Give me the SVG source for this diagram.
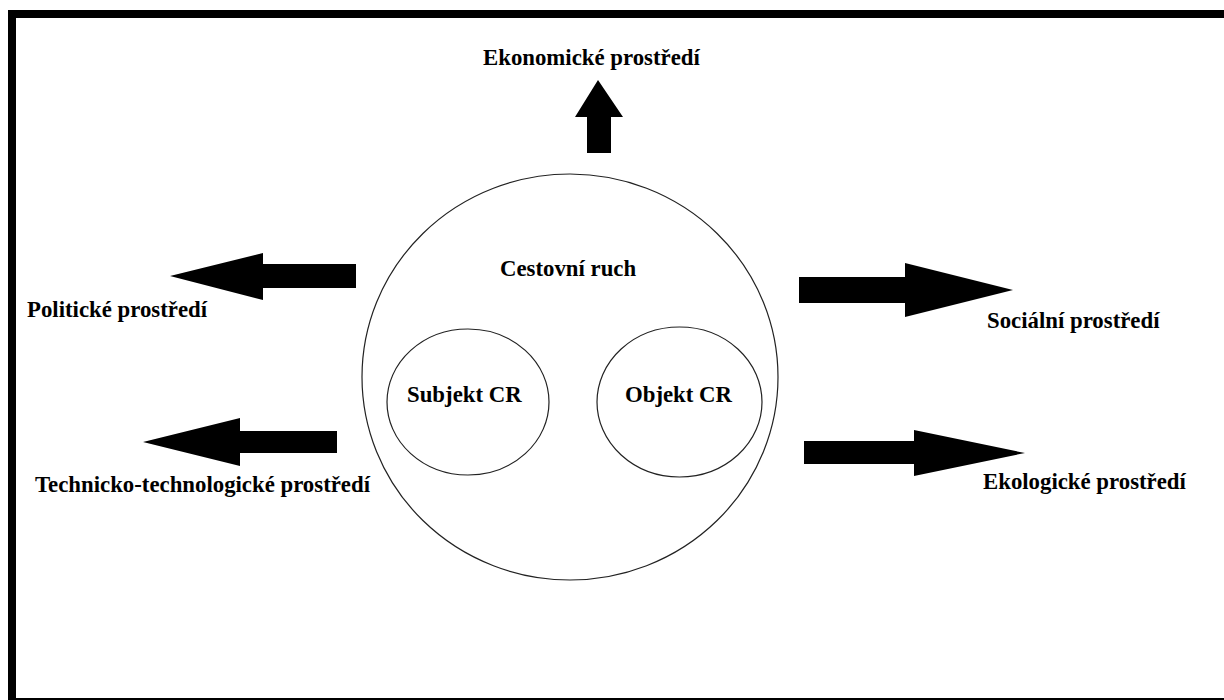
<svg xmlns="http://www.w3.org/2000/svg" width="1224" height="700" viewBox="0 0 1224 700">
<style>
.t{font-family:"Liberation Serif","Times New Roman",serif;font-weight:bold;font-size:22.8px;fill:#000}
.e{fill:none;stroke:#222;stroke-width:1.2}
.a{fill:#000}
</style>
<rect x="0" y="0" width="1224" height="700" fill="#fff"/>
<rect x="12" y="14" width="1220" height="688" fill="none" stroke="#000" stroke-width="8"/>
<g id="cestovni-ruch">
<ellipse class="e" cx="570" cy="377" rx="208" ry="203"/>
<text class="t" x="500" y="276">Cestovní ruch</text>
</g>
<g id="subjekt">
<ellipse class="e" cx="468" cy="402" rx="81" ry="73"/>
<text class="t" x="407" y="402">Subjekt CR</text>
</g>
<g id="objekt">
<ellipse class="e" cx="679.5" cy="402" rx="82.5" ry="75"/>
<text class="t" x="625" y="402">Objekt CR</text>
</g>
<g id="connectors">
<polygon class="a" points="598,80 623,117 611,117 611,153 587,153 587,117 575,117"/>
<polygon class="a" points="170,276 263,253 263,264 356,264 356,288 263,288 263,300"/>
<polygon class="a" points="143,442 240,418 240,431 337,431 337,453 240,453 240,466"/>
<polygon class="a" points="1013,290 905,263 905,277 799,277 799,303 905,303 905,317"/>
<polygon class="a" points="1025,453 914,430 914,441 804,441 804,464 914,464 914,476"/>
</g>
<g id="ekonomicke"><text class="t" x="483" y="65">Ekonomické prostředí</text></g>
<g id="politicke"><text class="t" x="27" y="317">Politické prostředí</text></g>
<g id="technicko"><text class="t" x="35" y="492">Technicko-technologické prostředí</text></g>
<g id="socialni"><text class="t" x="987" y="328">Sociální prostředí</text></g>
<g id="ekologicke"><text class="t" x="983" y="489">Ekologické prostředí</text></g>
</svg>
